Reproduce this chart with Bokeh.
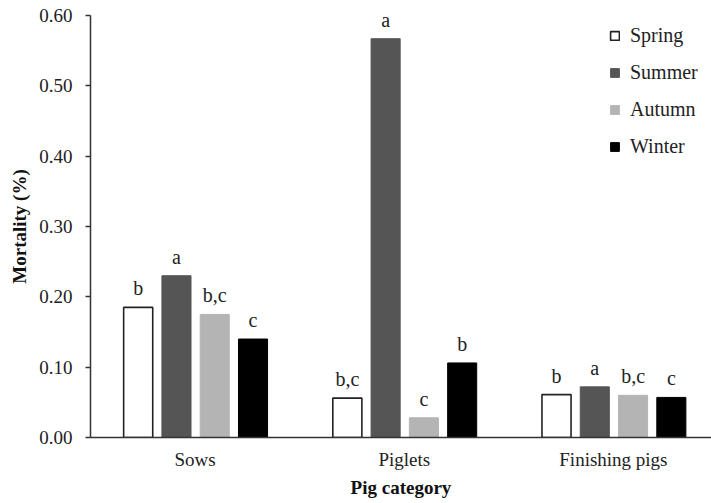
from bokeh.plotting import figure
from bokeh.models import ColumnDataSource, Range1d, FixedTicker, Legend, LegendItem
from bokeh.embed import file_html
from bokeh.resources import INLINE
from bokeh.core.properties import value

categories = ["Sows", "Piglets", "Finishing pigs"]
seasons = ["Spring", "Summer", "Autumn", "Winter"]
spring = [0.185, 0.056, 0.061]
summer = [0.230, 0.567, 0.072]
autumn = [0.175, 0.028, 0.060]
winter = [0.140, 0.106, 0.057]
spring_sig = ["b", "b,c", "b"]
summer_sig = ["a", "a", "a"]
autumn_sig = ["b,c", "c", "b,c"]
winter_sig = ["c", "b", "c"]
y_ticks = [0.0, 0.1, 0.2, 0.3, 0.4, 0.5, 0.6]

series = [spring, summer, autumn, winter]
sigs = [spring_sig, summer_sig, autumn_sig, winter_sig]
fills = ["#ffffff", "#555555", "#b4b4b4", "#000000"]
lines = ["#222222", "#555555", "#b4b4b4", "#000000"]
offsets = [-0.272, -0.089, 0.094, 0.277]
bar_w = 0.139

FONT = "Liberation Serif"

p = figure(width=711, height=500, output_backend="svg", toolbar_location=None,
           x_range=Range1d(-0.5, 2.469), y_range=Range1d(0, 0.6),
           min_border_left=90, min_border_top=15, min_border_right=0, min_border_bottom=63)
p.outline_line_color = None
p.xgrid.visible = False
p.ygrid.visible = False
p.background_fill_color = "white"
p.border_fill_color = "white"

idx = list(range(len(categories)))
renderers = []
for name, vals, sg, fc, lc, off in zip(seasons, series, sigs, fills, lines, offsets):
    src = ColumnDataSource(dict(x=[i + off for i in idx], top=vals, sig=sg))
    r = p.vbar(x="x", top="top", width=bar_w, source=src, fill_color=fc,
               line_color=lc, line_width=1.6 if name == "Spring" else 1)
    renderers.append(r)
    p.text(x="x", y="top", text="sig", source=src, text_align="center",
           text_baseline="bottom", y_offset=-8, text_font=value(FONT),
           text_font_size="20px", text_color="#222222")

legend = Legend(items=[LegendItem(label=s, renderers=[r]) for s, r in zip(seasons, renderers)],
                location=(519, 279), padding=0, spacing=14, glyph_width=11, glyph_height=11,
                label_height=20, label_standoff=10, label_text_font=FONT,
                label_text_font_size="20px", label_text_color="#222222",
                border_line_color=None, background_fill_alpha=0)
p.add_layout(legend)

p.xaxis.ticker = FixedTicker(ticks=idx)
p.xaxis.major_label_overrides = {i: c for i, c in zip(idx, categories)}
p.xaxis.major_tick_out = 0
p.xaxis.major_tick_in = 0
p.xaxis.minor_tick_line_color = None
p.xaxis.major_label_standoff = 11
p.xaxis.axis_label = "Pig category"
p.xaxis.axis_label_standoff = 4

p.yaxis.ticker = FixedTicker(ticks=y_ticks)
p.yaxis.major_label_overrides = {t: f"{t:.2f}" for t in y_ticks}
p.yaxis.major_tick_out = 5
p.yaxis.major_tick_in = 0
p.yaxis.minor_tick_line_color = None
p.yaxis.major_label_standoff = 13
p.yaxis.axis_label = "Mortality (%)"
p.yaxis.axis_label_standoff = 6

for ax in (p.xaxis, p.yaxis):
    ax.axis_line_color = "#333333"
    ax.axis_line_width = 1.5
    ax.major_tick_line_color = "#333333"
    ax.major_tick_line_width = 1.5
    ax.major_label_text_font = FONT
    ax.major_label_text_font_size = "19px"
    ax.major_label_text_color = "#222222"
    ax.axis_label_text_font = FONT
    ax.axis_label_text_font_size = "19px"
    ax.axis_label_text_font_style = "bold"
    ax.axis_label_text_color = "#111111"

open("out.html", "w").write(file_html(p, INLINE))
